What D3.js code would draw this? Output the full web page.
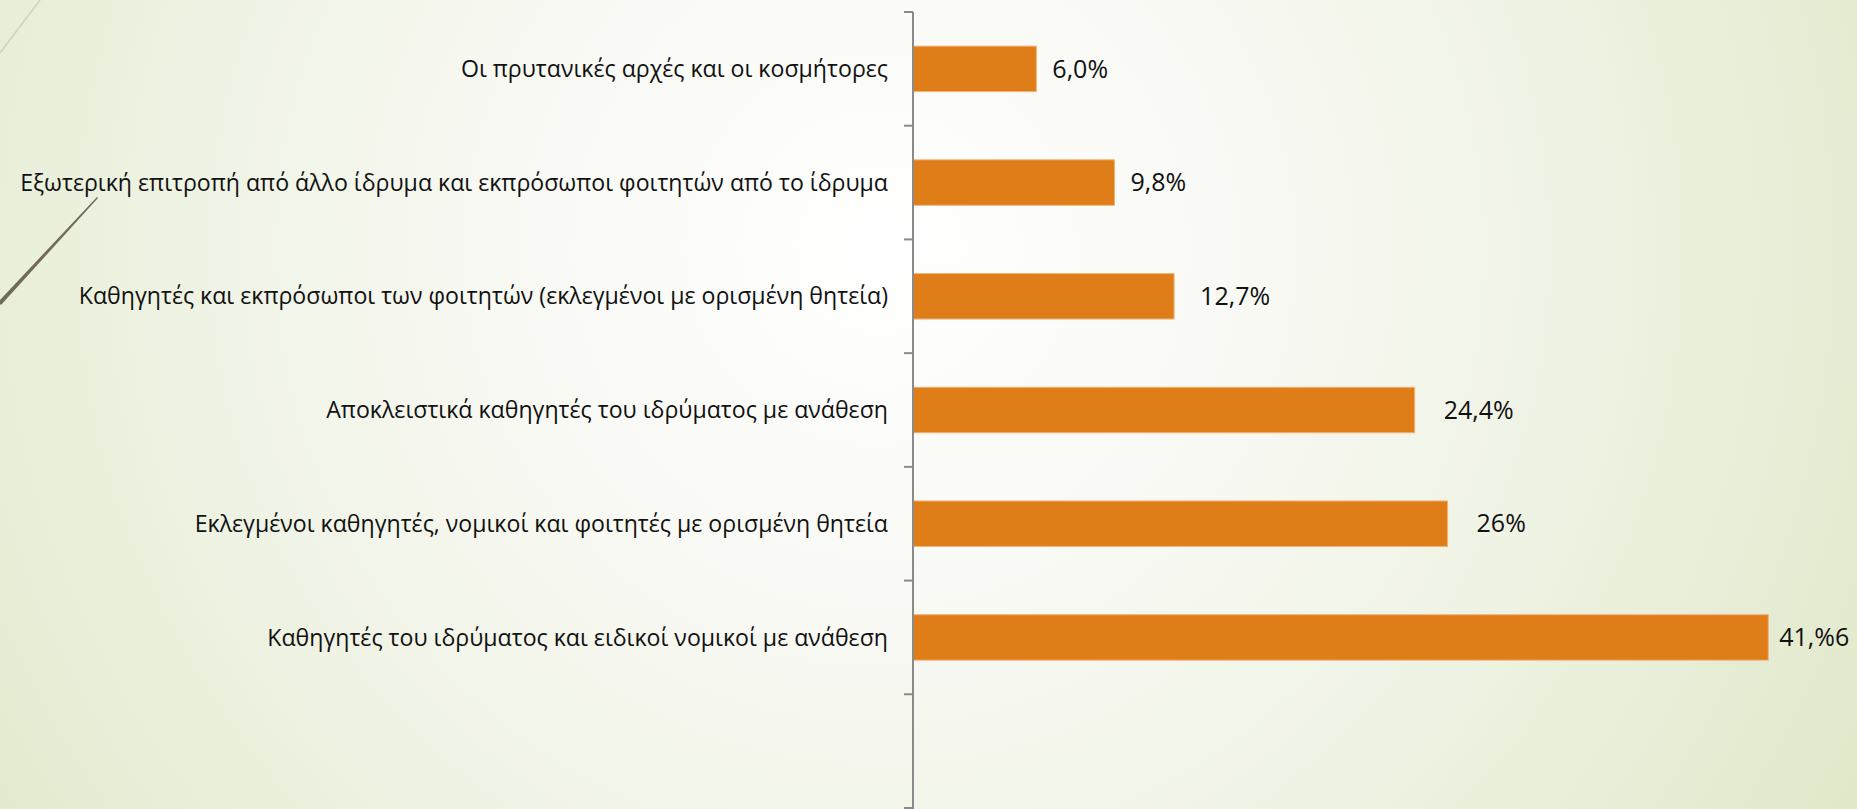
<!DOCTYPE html>
<html>
<head>
<meta charset="utf-8">
<script src="https://cdn.jsdelivr.net/npm/d3@7"></script>
<style>
    html, body { margin: 0; padding: 0; overflow: hidden; }
    svg { display: block; }
    text { font-family: "Open Sans", "Noto Sans", sans-serif; fill: #111; }
</style>
</head>
<body>
<div id="chart"></div>
<script>
// data
const categories = [
    "Οι πρυτανικές αρχές και οι κοσμήτορες",
    "Εξωτερική επιτροπή από άλλο ίδρυμα και εκπρόσωποι φοιτητών από το ίδρυμα",
    "Καθηγητές και εκπρόσωποι των φοιτητών (εκλεγμένοι με ορισμένη θητεία)",
    "Αποκλειστικά καθηγητές του ιδρύματος με ανάθεση",
    "Εκλεγμένοι καθηγητές, νομικοί και φοιτητές με ορισμένη θητεία",
    "Καθηγητές του ιδρύματος και ειδικοί νομικοί με ανάθεση"
];
const values = [6.0, 9.8, 12.7, 24.4, 26, 41.6];
const valueLabels = ["6,0%", "9,8%", "12,7%", "24,4%", "26%", "41,%6"];

function init() {
    const width = 1857, height = 809;
    const axisX = 913;

    const svg = d3.select("#chart")
        .append("svg")
        .attr("width", width)
        .attr("height", height);

    // slide background
    const defs = svg.append("defs");
    const grad = defs.append("radialGradient")
        .attr("id", "bg")
        .attr("gradientUnits", "userSpaceOnUse")
        .attr("cx", 880).attr("cy", 250).attr("r", 1120);
    grad.append("stop").attr("offset", 0).attr("stop-color", "#ffffff");
    grad.append("stop").attr("offset", 0.35).attr("stop-color", "#f8f9f3");
    grad.append("stop").attr("offset", 0.7).attr("stop-color", "#ecf1df");
    grad.append("stop").attr("offset", 1).attr("stop-color", "#e1e8c9");

    svg.append("rect")
        .attr("width", width)
        .attr("height", height)
        .attr("fill", "url(#bg)");

    // theme decoration lines top left
    svg.append("line")
        .attr("x1", 0).attr("y1", 53)
        .attr("x2", 40).attr("y2", 0)
        .attr("stroke", "#cfcfc4")
        .attr("stroke-width", 1.5);
    svg.append("path")
        .attr("d", "M97,197 L98,198 L1,305 L-2,302 Z")
        .attr("fill", "#716a58");

    // scales: the last slot is empty, as on the slide
    const slots = categories.concat(["(empty)"]);
    const y = d3.scaleBand()
        .domain(slots)
        .range([12, 808])
        .paddingInner(0.6)
        .paddingOuter(0.3);

    const x = d3.scaleLinear()
        .domain([0, 45])
        .range([axisX, axisX + 45 * 20.56]);

    // bars
    svg.selectAll(".bar")
        .data(values)
        .enter()
        .append("rect")
        .attr("class", "bar")
        .attr("x", x(0))
        .attr("y", (d, i) => y(categories[i]))
        .attr("width", d => x(d) - x(0))
        .attr("height", y.bandwidth())
        .attr("fill", "#df7d19")
        .attr("stroke", "#f2b47a")
        .attr("stroke-width", 1);

    // category axis: line plus ticks on band boundaries
    const axisColor = "#8a8a8a";
    svg.append("line")
        .attr("x1", axisX).attr("x2", axisX)
        .attr("y1", y.range()[0]).attr("y2", y.range()[1] + 2)
        .attr("stroke", axisColor)
        .attr("stroke-width", 2);

    const bounds = d3.range(slots.length + 1).map(k => y.range()[0] + k * y.step());
    svg.selectAll(".tick")
        .data(bounds)
        .enter()
        .append("line")
        .attr("class", "tick")
        .attr("x1", axisX - 9).attr("x2", axisX)
        .attr("y1", d => d).attr("y2", d => d)
        .attr("stroke", axisColor)
        .attr("stroke-width", 2);

    const labels = svg.selectAll(".cat")
        .data(categories)
        .enter()
        .append("text")
        .attr("class", "cat")
        .attr("x", axisX - 25)
        .attr("y", d => y(d) + y.bandwidth() / 2)
        .attr("dy", "0.35em")
        .attr("text-anchor", "end")
        .style("font-size", "24px")
        .text(d => d);

    // shrink the font a little if the longest label runs wider than on the slide
    const longest = d3.max(labels.nodes(), n => n.getComputedTextLength());
    if (longest > 868) {
        labels.style("font-size", (24 * 868 / longest).toFixed(2) + "px");
    }

    // data labels were nudged by hand on the slide
    const labelGap = [16, 16, 26, 29, 29, 11];
    svg.selectAll(".val")
        .data(values)
        .enter()
        .append("text")
        .attr("class", "val")
        .attr("x", (d, i) => x(d) + labelGap[i])
        .attr("y", (d, i) => y(categories[i]) + y.bandwidth() / 2)
        .attr("dy", "0.35em")
        .style("font-size", "25px")
        .text((d, i) => valueLabels[i]);
}

window.onload = init;
</script>
</body>
</html>
